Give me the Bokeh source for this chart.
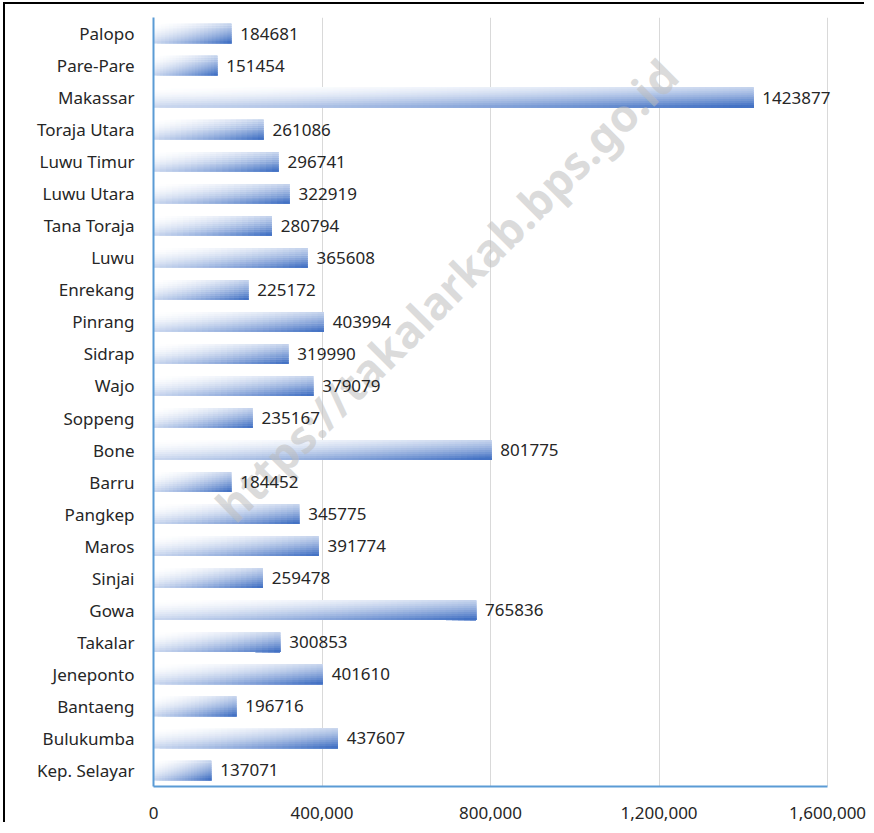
import numpy as np
from bokeh.plotting import figure
from bokeh.models import ColumnDataSource, Range1d, FixedTicker, NumeralTickFormatter, FactorRange
from bokeh.transform import dodge
from bokeh.core.properties import value
from bokeh.embed import file_html
from bokeh.resources import INLINE

# ---------------- data ----------------
regions = ["Kep. Selayar", "Bulukumba", "Bantaeng", "Jeneponto", "Takalar", "Gowa",
           "Sinjai", "Maros", "Pangkep", "Barru", "Bone", "Soppeng", "Wajo", "Sidrap",
           "Pinrang", "Enrekang", "Luwu", "Tana Toraja", "Luwu Utara", "Luwu Timur",
           "Toraja Utara", "Makassar", "Pare-Pare", "Palopo"]
population = [137071, 437607, 196716, 401610, 300853, 765836,
              259478, 391774, 345775, 184452, 801775, 235167, 379079, 319990,
              403994, 225172, 365608, 280794, 322919, 296741,
              261086, 1423877, 151454, 184681]
x_ticks = [0, 400000, 800000, 1200000, 1600000]
watermark = "https://takalarkab.bps.go.id"

FONT = "Noto Sans"
TXT = "#262626"
AXIS_BLUE = "#5B9BD5"

# page geometry (content origin at page x=5, y=4)
OX, OY = 5, 4
W, H = 861, 820
AX_L, AX_R, FR_T, FR_B = 153, 827, 17, 786   # axis span on the page
FR_R = 864                                     # frame extends right so labels are not clipped
x_end = x_ticks[-1] * (FR_R - AX_L) / (AX_R - AX_L)

p = figure(width=W, height=H, output_backend="svg", toolbar_location=None,
           x_range=Range1d(x_ticks[0], x_end),
           y_range=FactorRange(factors=regions, range_padding=0))
p.styles = {"margin-left": "%dpx" % OX, "margin-top": "%dpx" % OY,
            "box-shadow": "-2px -2px 0 0 #000", "overflow": "hidden"}
p.min_border_left = AX_L - OX
p.min_border_top = FR_T - OY
p.min_border_right = W - (FR_R - OX)
p.min_border_bottom = H - (FR_B - OY)
p.outline_line_color = None
p.background_fill_color = "white"
p.border_fill_color = "white"

# ---------------- gradient bars ----------------
white = np.array([255, 255, 255], dtype=float)
blue = np.array([68, 114, 196], dtype=float)

def col(t):
    t = min(max(t, 0.0), 1.0) ** 1.8
    c = white + (blue - white) * t
    return "#%02x%02x%02x" % tuple(int(round(v)) for v in c)

ny = 10
bar_h = 0.61
vmax = max(population)
for j in range(ny):
    yf = (j + 0.5) / ny
    h = bar_h - j * bar_h / ny
    off = bar_h / 2 - j * bar_h / ny - h / 2
    cats, lefts, rights, colors = [], [], [], []
    for c, v in zip(regions, population):
        nx = max(20, int(100 * v / vmax))
        for k in range(nx):
            xf = (k + 0.5) / nx
            cats.append(c)
            lefts.append(v * k / nx)
            rights.append(v)
            colors.append(col(0.52 * xf + 0.52 * yf))
    src = ColumnDataSource(dict(cat=cats, left=lefts, right=rights, color=colors))
    p.hbar(y=dodge("cat", off, range=p.y_range), left="left", right="right",
           height=h, fill_color="color", line_color=None, source=src)

# ---------------- watermark ----------------
p.text(x=[695000], y=["Enrekang"], text=[watermark], angle=np.pi / 4,
       text_align="center", text_baseline="middle",
       text_font=value(FONT), text_font_style="bold", text_font_size="45px",
       text_color="#bdbdbd", text_alpha=0.55)

# ---------------- value labels ----------------
lab_src = ColumnDataSource(dict(cat=regions, val=population, txt=[str(v) for v in population]))
p.text(x="val", y="cat", text="txt", source=lab_src, x_offset=9,
       text_baseline="middle", text_align="left",
       text_font=value(FONT), text_font_size="17px", text_color=TXT)

# ---------------- axes ----------------
p.xaxis.ticker = FixedTicker(ticks=x_ticks)
p.xaxis.formatter = NumeralTickFormatter(format="0,0")
p.xaxis.bounds = (x_ticks[0], x_ticks[-1])
for ax in (p.xaxis[0], p.yaxis[0]):
    ax.axis_line_color = AXIS_BLUE
    ax.axis_line_width = 2
    ax.major_tick_line_color = None
    ax.minor_tick_line_color = None
    ax.major_label_text_font = FONT
    ax.major_label_text_font_size = "17px"
    ax.major_label_text_color = TXT
p.xaxis.major_label_standoff = 14
p.yaxis.major_label_standoff = 13

p.ygrid.grid_line_color = None
p.xgrid.grid_line_color = "#d9d9d9"
p.xgrid.grid_line_width = 1

open("out.html", "w").write(file_html(p, INLINE))
